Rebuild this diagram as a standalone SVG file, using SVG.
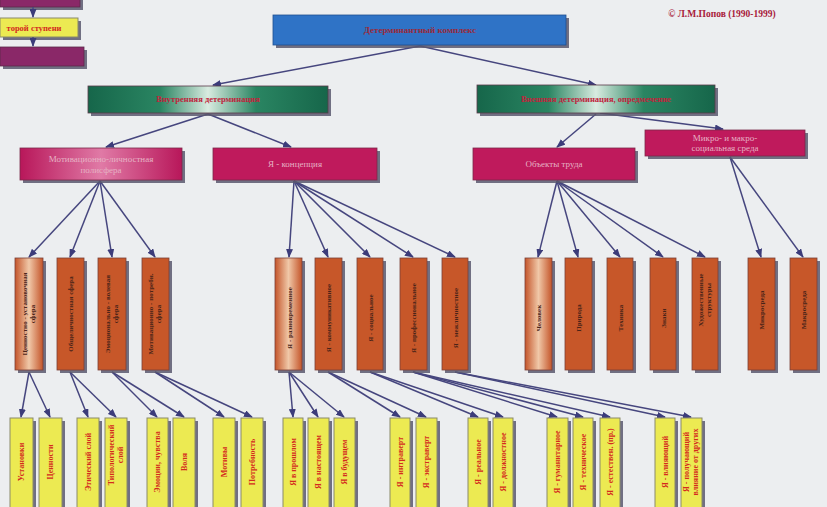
<svg xmlns="http://www.w3.org/2000/svg" width="827" height="507" viewBox="0 0 827 507">
<defs>
<marker id="ah" markerWidth="9" markerHeight="7" refX="8" refY="3.5" orient="auto" markerUnits="userSpaceOnUse"><path d="M0,0 L9,3.5 L0,7 Z" fill="#3c3c7a"/></marker>
<linearGradient id="gGreen" x1="0" y1="0" x2="1" y2="0"><stop offset="0" stop-color="#16664a"/><stop offset="0.3" stop-color="#2a8562"/><stop offset="0.5" stop-color="#d8ebe0"/><stop offset="0.7" stop-color="#2a8562"/><stop offset="1" stop-color="#16664a"/></linearGradient>
<linearGradient id="gMag" x1="0" y1="0" x2="1" y2="0"><stop offset="0" stop-color="#b8175a"/><stop offset="0.5" stop-color="#e07aa6"/><stop offset="1" stop-color="#b8175a"/></linearGradient>
<linearGradient id="gOr" x1="0" y1="0" x2="1" y2="0"><stop offset="0" stop-color="#c4552a"/><stop offset="0.5" stop-color="#f0c8a8"/><stop offset="1" stop-color="#c4552a"/></linearGradient>
</defs>
<style>
.sh{fill:#5b586e;opacity:0.85}
.blue{fill:#2f73c6;stroke:#1f4f90;stroke-width:0.8}
.green{fill:url(#gGreen);stroke:#5a3a4a;stroke-width:0.8}
.mag{fill:#bf1a5c;stroke:#7a2a4a;stroke-width:0.8}
.mag2{fill:url(#gMag);stroke:#7a2a4a;stroke-width:0.8}
.or{fill:#c75729;stroke:#7a4038;stroke-width:0.8}
.or2{fill:url(#gOr);stroke:#7a4038;stroke-width:0.8}
.ye{fill:#ecea52;stroke:#8a8a6a;stroke-width:1}
.pur{fill:#8a2868;stroke:#5a2a4a;stroke-width:0.8}
text{font-family:"Liberation Serif","Times New Roman",serif;font-weight:bold;text-anchor:middle}
.tb{font-size:9px;fill:#9a2a3a}
.tg{font-size:8.5px;fill:#c0243c}
.tm{font-size:9px;fill:#e6b2c4;font-weight:normal}
.to{font-size:7px;fill:#4a2418}
.ty{font-size:8px;fill:#d42a1e}
.tc{font-size:9.5px;fill:#a8203a}
#connectors line{stroke:#46467e;stroke-width:1.5;fill:none;marker-end:url(#ah)}
</style>
<rect width="827" height="507" fill="#eceef0"/>

<g id="legend">
<rect class="sh" x="3" y="-10" width="80" height="20"/>
<rect class="pur" x="0" y="-12" width="80" height="19"/>
<rect class="sh" x="3" y="21" width="78" height="19"/>
<rect class="ye" x="0" y="18" width="78" height="19"/>
<text x="34" y="31" style="font-size:8.5px;fill:#d42a1e;font-weight:bold">торой ступени</text>
<rect class="sh" x="3" y="50" width="84" height="19"/>
<rect class="pur" x="0" y="47" width="84" height="19"/>
<line x1="33" y1="7" x2="33" y2="17" stroke="#46467e" stroke-width="1.5" marker-end="url(#ah)"/>
<line x1="33" y1="37" x2="33" y2="46" stroke="#46467e" stroke-width="1.5" marker-end="url(#ah)"/>
</g>

<text class="tc" x="722" y="17">© Л.М.Попов (1990-1999)</text>

<g id="connectors">
<line x1="420" y1="46" x2="213" y2="85"/>
<line x1="420" y1="46" x2="596" y2="85"/>
<line x1="208" y1="114" x2="106" y2="147"/>
<line x1="208" y1="114" x2="291" y2="147"/>
<line x1="596" y1="114" x2="557" y2="147"/>
<line x1="600" y1="113" x2="723" y2="129"/>
<line x1="100" y1="181" x2="29" y2="257"/>
<line x1="100" y1="181" x2="70" y2="257"/>
<line x1="100" y1="181" x2="112" y2="257"/>
<line x1="100" y1="181" x2="155" y2="257"/>
<line x1="294" y1="181" x2="289" y2="257"/>
<line x1="294" y1="181" x2="328" y2="257"/>
<line x1="294" y1="181" x2="370" y2="257"/>
<line x1="294" y1="181" x2="413" y2="257"/>
<line x1="294" y1="181" x2="455" y2="257"/>
<line x1="557" y1="181" x2="538" y2="257"/>
<line x1="557" y1="181" x2="578" y2="257"/>
<line x1="557" y1="181" x2="620" y2="257"/>
<line x1="557" y1="181" x2="663" y2="257"/>
<line x1="557" y1="181" x2="705" y2="257"/>
<line x1="730" y1="157" x2="761" y2="257"/>
<line x1="730" y1="157" x2="803" y2="257"/>
<line x1="29" y1="372" x2="21" y2="417"/>
<line x1="29" y1="372" x2="50" y2="417"/>
<line x1="70" y1="372" x2="88" y2="417"/>
<line x1="70" y1="372" x2="116" y2="417"/>
<line x1="112" y1="372" x2="157" y2="417"/>
<line x1="112" y1="372" x2="184" y2="417"/>
<line x1="155" y1="372" x2="224" y2="417"/>
<line x1="155" y1="372" x2="252" y2="417"/>
<line x1="289" y1="372" x2="293" y2="417"/>
<line x1="289" y1="372" x2="318" y2="417"/>
<line x1="289" y1="372" x2="344" y2="417"/>
<line x1="328" y1="372" x2="400" y2="417"/>
<line x1="328" y1="372" x2="426" y2="417"/>
<line x1="370" y1="372" x2="478" y2="417"/>
<line x1="370" y1="372" x2="503" y2="417"/>
<line x1="413" y1="372" x2="557" y2="417"/>
<line x1="413" y1="372" x2="583" y2="417"/>
<line x1="413" y1="372" x2="610" y2="417"/>
<line x1="455" y1="372" x2="665" y2="417"/>
<line x1="455" y1="372" x2="691" y2="417"/>
</g>

<g id="n-top"><rect class="sh" x="276" y="18" width="293" height="30"/><rect class="blue" x="273" y="15" width="293" height="30"/><text class="tb" x="420" y="33">Детерминантный комплекс</text></g>

<g id="n-inner"><rect class="sh" x="91" y="89" width="240" height="27"/><rect class="green" x="88" y="86" width="240" height="27"/><text class="tg" x="208" y="102">Внутренняя детерминация</text></g>
<g id="n-outer"><rect class="sh" x="480" y="88" width="238" height="28"/><rect class="green" x="477" y="85" width="238" height="28"/><text class="tg" x="596" y="102">Внешняя детерминация, опредмечение</text></g>

<g id="n-motiv"><rect class="sh" x="23" y="151" width="162" height="32"/><rect class="mag2" x="20" y="148" width="162" height="32"/><text class="tm" x="101" y="162">Мотивационно-личностная</text><text class="tm" x="101" y="173">полисфера</text></g>
<g id="n-yaconc"><rect class="sh" x="216" y="151" width="164" height="32"/><rect class="mag" x="213" y="148" width="164" height="32"/><text class="tm" x="295" y="167">Я - концепция</text></g>
<g id="n-obj"><rect class="sh" x="476" y="151" width="162" height="32"/><rect class="mag" x="473" y="148" width="162" height="32"/><text class="tm" x="554" y="167">Объекты труда</text></g>
<g id="n-env"><rect class="sh" x="648" y="133" width="160" height="26"/><rect class="mag" x="645" y="130" width="160" height="26"/><text class="tm" x="725" y="141">Микро- и макро-</text><text class="tm" x="725" y="151">социальная среда</text></g>

<g id="n-o1"><rect class="sh" x="18" y="261" width="28" height="112"/><rect class="or2" x="15" y="258" width="28" height="112"/><text class="to" transform="rotate(-90 29 314)" x="29" y="312">Ценностно - установочная</text><text class="to" transform="rotate(-90 29 314)" x="29" y="320">сфера</text></g>
<g id="n-o2"><rect class="sh" x="60" y="261" width="27" height="112"/><rect class="or" x="57" y="258" width="27" height="112"/><text class="to" transform="rotate(-90 70 314)" x="70" y="317">Общеличностная сфера</text></g>
<g id="n-o3"><rect class="sh" x="101" y="261" width="28" height="112"/><rect class="or" x="98" y="258" width="28" height="112"/><text class="to" transform="rotate(-90 112 314)" x="112" y="312">Эмоционально - волевая</text><text class="to" transform="rotate(-90 112 314)" x="112" y="320">сфера</text></g>
<g id="n-o4"><rect class="sh" x="145" y="261" width="27" height="112"/><rect class="or" x="142" y="258" width="27" height="112"/><text class="to" transform="rotate(-90 155 314)" x="155" y="312">Мотивационно - потребн.</text><text class="to" transform="rotate(-90 155 314)" x="155" y="320">сфера</text></g>

<g id="n-o5"><rect class="sh" x="278" y="261" width="27" height="112"/><rect class="or2" x="275" y="258" width="27" height="112"/><text class="to" transform="rotate(-90 289 318)" x="289" y="321">Я - разновременное</text></g>
<g id="n-o6"><rect class="sh" x="318" y="261" width="27" height="112"/><rect class="or" x="315" y="258" width="27" height="112"/><text class="to" transform="rotate(-90 328 318)" x="328" y="321">Я - коммуникативное</text></g>
<g id="n-o7"><rect class="sh" x="360" y="261" width="26" height="112"/><rect class="or" x="357" y="258" width="26" height="112"/><text class="to" transform="rotate(-90 370 318)" x="370" y="321">Я - социальное</text></g>
<g id="n-o8"><rect class="sh" x="403" y="261" width="27" height="112"/><rect class="or" x="400" y="258" width="27" height="112"/><text class="to" transform="rotate(-90 413 318)" x="413" y="321">Я - профессиональное</text></g>
<g id="n-o9"><rect class="sh" x="445" y="261" width="26" height="112"/><rect class="or" x="442" y="258" width="26" height="112"/><text class="to" transform="rotate(-90 455 318)" x="455" y="321">Я - межличностное</text></g>

<g id="n-o10"><rect class="sh" x="528" y="261" width="27" height="112"/><rect class="or2" x="525" y="258" width="27" height="112"/><text class="to" transform="rotate(-90 538 318)" x="538" y="321">Человек</text></g>
<g id="n-o11"><rect class="sh" x="568" y="261" width="27" height="112"/><rect class="or" x="565" y="258" width="27" height="112"/><text class="to" transform="rotate(-90 578 318)" x="578" y="321">Природа</text></g>
<g id="n-o12"><rect class="sh" x="610" y="261" width="26" height="112"/><rect class="or" x="607" y="258" width="26" height="112"/><text class="to" transform="rotate(-90 620 318)" x="620" y="321">Техника</text></g>
<g id="n-o13"><rect class="sh" x="653" y="261" width="26" height="112"/><rect class="or" x="650" y="258" width="26" height="112"/><text class="to" transform="rotate(-90 663 318)" x="663" y="321">Знаки</text></g>
<g id="n-o14"><rect class="sh" x="695" y="261" width="26" height="112"/><rect class="or" x="692" y="258" width="26" height="112"/><text class="to" transform="rotate(-90 705 300)" x="705" y="298">Художественные</text><text class="to" transform="rotate(-90 705 300)" x="705" y="306">структуры</text></g>
<g id="n-o15"><rect class="sh" x="751" y="261" width="27" height="112"/><rect class="or" x="748" y="258" width="27" height="112"/><text class="to" transform="rotate(-90 761 310)" x="761" y="313">Микросреда</text></g>
<g id="n-o16"><rect class="sh" x="793" y="261" width="27" height="112"/><rect class="or" x="790" y="258" width="27" height="112"/><text class="to" transform="rotate(-90 803 310)" x="803" y="313">Макросреда</text></g>

<g id="n-y1"><rect class="sh" x="13" y="421" width="23" height="90"/><rect class="ye" x="10" y="418" width="23" height="92"/><text class="ty" transform="rotate(-90 21 462)" x="21" y="465">Установки</text></g>
<g id="n-y2"><rect class="sh" x="42" y="421" width="23" height="90"/><rect class="ye" x="39" y="418" width="23" height="92"/><text class="ty" transform="rotate(-90 50 462)" x="50" y="465">Ценности</text></g>
<g id="n-y3"><rect class="sh" x="80" y="421" width="22" height="90"/><rect class="ye" x="77" y="418" width="22" height="92"/><text class="ty" transform="rotate(-90 88 462)" x="88" y="465">Этический слой</text></g>
<g id="n-y4"><rect class="sh" x="108" y="421" width="22" height="90"/><rect class="ye" x="105" y="418" width="22" height="92"/><text class="ty" transform="rotate(-90 116 455)" x="116" y="453">Типологический</text><text class="ty" transform="rotate(-90 116 455)" x="116" y="462">слой</text></g>
<g id="n-y5"><rect class="sh" x="150" y="421" width="21" height="90"/><rect class="ye" x="147" y="418" width="21" height="92"/><text class="ty" transform="rotate(-90 157 462)" x="157" y="465">Эмоции, чувства</text></g>
<g id="n-y6"><rect class="sh" x="176" y="421" width="22" height="90"/><rect class="ye" x="173" y="418" width="22" height="92"/><text class="ty" transform="rotate(-90 184 462)" x="184" y="465">Воля</text></g>
<g id="n-y7"><rect class="sh" x="216" y="421" width="22" height="90"/><rect class="ye" x="213" y="418" width="22" height="92"/><text class="ty" transform="rotate(-90 224 462)" x="224" y="465">Мотивы</text></g>
<g id="n-y8"><rect class="sh" x="244" y="421" width="22" height="90"/><rect class="ye" x="241" y="418" width="22" height="92"/><text class="ty" transform="rotate(-90 252 462)" x="252" y="465">Потребность</text></g>

<g id="n-y9"><rect class="sh" x="286" y="421" width="20" height="90"/><rect class="ye" x="283" y="418" width="20" height="92"/><text class="ty" transform="rotate(-90 293 462)" x="293" y="465">Я в прошлом</text></g>
<g id="n-y10"><rect class="sh" x="311" y="421" width="21" height="90"/><rect class="ye" x="308" y="418" width="21" height="92"/><text class="ty" transform="rotate(-90 318 462)" x="318" y="465">Я в настоящем</text></g>
<g id="n-y11"><rect class="sh" x="337" y="421" width="21" height="90"/><rect class="ye" x="334" y="418" width="21" height="92"/><text class="ty" transform="rotate(-90 344 462)" x="344" y="465">Я в будущем</text></g>
<g id="n-y12"><rect class="sh" x="393" y="421" width="20" height="90"/><rect class="ye" x="390" y="418" width="20" height="92"/><text class="ty" transform="rotate(-90 400 462)" x="400" y="465">Я - интраверт</text></g>
<g id="n-y13"><rect class="sh" x="419" y="421" width="21" height="90"/><rect class="ye" x="416" y="418" width="21" height="92"/><text class="ty" transform="rotate(-90 426 462)" x="426" y="465">Я - экстраверт</text></g>
<g id="n-y14"><rect class="sh" x="471" y="421" width="20" height="90"/><rect class="ye" x="468" y="418" width="20" height="92"/><text class="ty" transform="rotate(-90 478 462)" x="478" y="465">Я - реальное</text></g>
<g id="n-y15"><rect class="sh" x="496" y="421" width="20" height="90"/><rect class="ye" x="493" y="418" width="20" height="92"/><text class="ty" transform="rotate(-90 503 462)" x="503" y="465">Я - должностное</text></g>
<g id="n-y16"><rect class="sh" x="550" y="421" width="21" height="90"/><rect class="ye" x="547" y="418" width="21" height="92"/><text class="ty" transform="rotate(-90 557 462)" x="557" y="465">Я - гуманитарное</text></g>
<g id="n-y17"><rect class="sh" x="576" y="421" width="20" height="90"/><rect class="ye" x="573" y="418" width="20" height="92"/><text class="ty" transform="rotate(-90 583 462)" x="583" y="465">Я - техническое</text></g>
<g id="n-y18"><rect class="sh" x="603" y="421" width="20" height="90"/><rect class="ye" x="600" y="418" width="20" height="92"/><text class="ty" transform="rotate(-90 610 462)" x="610" y="465">Я - естествен. (пр.)</text></g>
<g id="n-y19"><rect class="sh" x="658" y="421" width="20" height="90"/><rect class="ye" x="655" y="418" width="20" height="92"/><text class="ty" transform="rotate(-90 665 462)" x="665" y="465">Я - влияющий</text></g>
<g id="n-y20"><rect class="sh" x="684" y="421" width="21" height="90"/><rect class="ye" x="681" y="418" width="21" height="92"/><text class="ty" transform="rotate(-90 691 462)" x="691" y="460">Я - получающий</text><text class="ty" transform="rotate(-90 691 462)" x="691" y="469">влияние от других</text></g>
</svg>
